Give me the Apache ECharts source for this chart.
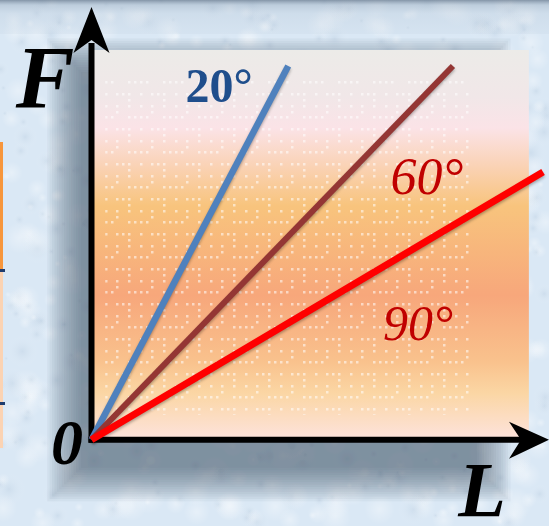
<!DOCTYPE html>
<html lang="zh">
<head>
    <meta charset="utf-8">
    <title>F - L</title>
    <script src="https://cdn.jsdelivr.net/npm/echarts@6/dist/echarts.min.js"></script>
    <style>
        html,
        body {
            margin: 0;
            height: 100%;
            overflow: hidden;
            background: #dae8f5;
        }

        #chart {
            width: 549px;
            height: 526px;
        }
    </style>
</head>
<body>
    <div id="chart"></div>
    <script>
        // L / F values (origin at 0,0)
        var lineNames = ['20°', '60°', '90°'];
        var lineColors = ['#4f81bd', '#943634', '#ff0000'];
        var lineWidths = [6.5, 6, 7];
        var lineL = [[0, 4.3], [0, 7.9], [0, 9.87]];
        var lineF = [[0, 8.67], [0, 8.67], [0, 6.21]];
        var panelL = [0.03, 9.56];
        var panelF = [0, 9.04];
        var dotsL = [0.3, 8.27];
        var dotsF = [0.58, 8.35];
        var axisTipL = 10, axisTipF = 10.04;

        // mottled light-blue backdrop with the soft shadow of the panel (seeded, always the same)
        function makeBackdrop(p0, p1) {
            var c = document.createElement('canvas');
            c.width = 549; c.height = 526;
            var g = c.getContext('2d');
            g.fillStyle = '#dae8f5';
            g.fillRect(0, 0, 549, 526);
            var seed = 7;
            function rnd() { seed = (seed * 16807) % 2147483647; return seed / 2147483647; }
            for (var i = 0; i < 900; i++) {
                var x = rnd() * 549, y = rnd() * 526, r = 3 + rnd() * 14;
                var light = rnd() > 0.45;
                var rg = g.createRadialGradient(x, y, 0, x, y, r);
                rg.addColorStop(0, light ? 'rgba(255,255,255,0.35)' : 'rgba(150,175,200,0.18)');
                rg.addColorStop(1, 'rgba(255,255,255,0)');
                g.fillStyle = rg;
                g.fillRect(x - r, y - r, r * 2, r * 2);
            }
            var top = g.createLinearGradient(0, 0, 0, 34);
            top.addColorStop(0, 'rgba(110,128,148,0.8)');
            top.addColorStop(0.15, 'rgba(160,178,196,0.5)');
            top.addColorStop(0.4, 'rgba(180,196,212,0.3)');
            top.addColorStop(1, 'rgba(190,205,220,0.18)');
            g.fillStyle = top;
            g.fillRect(0, 0, 549, 34);
            // stacked translucent rects give a soft shadow without blur
            g.fillStyle = 'rgba(60,74,94,0.05)';
            var sx = p0[0] - 12, sy = p0[1] + 22, sw = p1[0] - p0[0] - 40, sh = p1[1] - p0[1] + 6;
            for (var k = 0; k < 15; k++) {
                var e = k * 2.4;
                g.fillRect(sx - e, sy - e, sw + 2 * e, sh + 2 * e);
            }
            return c.toDataURL();
        }

        // white dot texture of the panel
        function makeDots() {
            var c = document.createElement('canvas');
            c.width = 35; c.height = 35;
            var g = c.getContext('2d');
            g.fillStyle = 'rgba(255,255,255,0.55)';
            var pts = [[0, 0], [11, 0], [23, 0], [0, 11], [23, 11], [6, 11], [11, 23], [0, 23],
                [23, 23], [17, 23], [29, 11], [11, 6], [23, 29]];
            pts.forEach(function (p) { g.fillRect(p[0], p[1], 2.5, 2.5); });
            return c;
        }

        var chart = echarts.init(document.getElementById('chart'), null, { renderer: 'canvas' });

        var series = [{
            type: 'line',
            z: -1,
            data: [],
            silent: true,
            markArea: {
                silent: true,
                itemStyle: {
                    color: new echarts.graphic.LinearGradient(0, 0, 0, 1, [
                        { offset: 0, color: '#ecebe8' },
                        { offset: 0.12, color: '#f1e7e8' },
                        { offset: 0.2, color: '#fbe3e7' },
                        { offset: 0.3, color: '#fad2b4' },
                        { offset: 0.4, color: '#f8c47d' },
                        { offset: 0.63, color: '#f7a77b' },
                        { offset: 0.8, color: '#f9c28d' },
                        { offset: 0.88, color: '#fbd6a4' },
                        { offset: 1, color: '#fde3dd' }
                    ])
                },
                data: [[{ coord: [panelL[0], panelF[1]] }, { coord: [panelL[1], panelF[0]] }]]
            }
        }, {
            type: 'line',
            z: -1,
            data: [],
            silent: true,
            markArea: {
                silent: true,
                itemStyle: { color: { image: makeDots(), repeat: 'repeat' } },
                data: [[{ coord: [dotsL[0], dotsF[1]] }, { coord: [dotsL[1], dotsF[0]] }]]
            }
        }];

        lineNames.forEach(function (name, i) {
            series.push({
                name: name,
                type: 'line',
                z: 3,
                symbol: 'none',
                data: lineL[i].map(function (l, k) { return [l, lineF[i][k]]; }),
                lineStyle: {
                    color: lineColors[i],
                    width: lineWidths[i],
                    shadowColor: 'rgba(0,0,0,0.3)',
                    shadowBlur: 3,
                    shadowOffsetY: 2
                }
            });
        });

        function label(text, x, y, size, color, style, weight) {
            return {
                type: 'text',
                x: x,
                y: y,
                z: 10,
                style: {
                    text: text,
                    fill: color,
                    font: style + ' ' + weight + ' ' + size + 'px "Liberation Serif", "Times New Roman", serif',
                    align: 'center',
                    verticalAlign: 'middle'
                }
            };
        }

        var hiddenAxis = {
            type: 'value',
            axisLine: { show: false },
            axisTick: { show: false },
            axisLabel: { show: false },
            splitLine: { show: false }
        };

        chart.setOption({
            backgroundColor: 'transparent',
            animation: false,
            grid: { left: 0, right: 0, top: 0, bottom: 0 },
            xAxis: Object.assign({ min: -2, max: 10 }, hiddenAxis),
            yAxis: Object.assign({ min: -2, max: 10.2 }, hiddenAxis),
            series: series
        });

        // axis arrows and panel shadow, placed through the same scales
        var o = chart.convertToPixel({ gridIndex: 0 }, [0, 0]);
        var xt = chart.convertToPixel({ gridIndex: 0 }, [axisTipL, 0]);
        var yt = chart.convertToPixel({ gridIndex: 0 }, [0, axisTipF]);
        var p0 = chart.convertToPixel({ gridIndex: 0 }, [panelL[0], panelF[1]]);
        var p1 = chart.convertToPixel({ gridIndex: 0 }, [panelL[1], panelF[0]]);
        document.body.style.background = 'url(' + makeBackdrop(p0, p1) + ')';

        var axisGraphics = [
            { type: 'line', z: 2, shape: { x1: o[0], y1: o[1] + 3, x2: yt[0], y2: yt[1] + 36 }, style: { stroke: '#000', lineWidth: 6 } },
            { type: 'line', z: 2, shape: { x1: o[0] - 3, y1: o[1], x2: xt[0] - 26, y2: xt[1] }, style: { stroke: '#000', lineWidth: 6 } },
            {
                type: 'polygon', z: 5,
                shape: { points: [[yt[0], yt[1]], [yt[0] + 18, yt[1] + 46], [yt[0], yt[1] + 33], [yt[0] - 18, yt[1] + 46]] },
                style: { fill: '#000' }
            },
            {
                type: 'polygon', z: 5,
                shape: { points: [[xt[0], xt[1]], [xt[0] - 40, xt[1] + 19], [xt[0] - 28, xt[1]], [xt[0] - 40, xt[1] - 18]] },
                style: { fill: '#000' }
            }
        ];

        chart.setOption({
            graphic: axisGraphics.concat([
                label('F', 45, 84, 88, '#000', 'italic', 'bold'),
                label('0', 67, 447, 64, '#000', 'italic', 'bold'),
                label('L', 482, 496, 78, '#000', 'italic', 'bold'),
                label('20°', 219, 90, 48, '#1f4e8c', 'normal', 'bold'),
                label('60°', 427, 180, 52, '#c00000', 'italic', 'normal'),
                label('90°', 418, 327, 50, '#c00000', 'italic', 'normal'),
                // cut-off edge of a neighbouring frame
                { type: 'rect', shape: { x: 0, y: 142, width: 3, height: 128 }, style: { fill: '#f7963c' } },
                { type: 'rect', shape: { x: 0, y: 270, width: 3, height: 178 }, style: { fill: '#fbd3b3' } },
                { type: 'rect', shape: { x: 0, y: 269, width: 5, height: 3 }, style: { fill: '#1f3c6e' } },
                { type: 'rect', shape: { x: 0, y: 402, width: 5, height: 3 }, style: { fill: '#1f3c6e' } }
            ])
        });
    </script>
</body>
</html>
